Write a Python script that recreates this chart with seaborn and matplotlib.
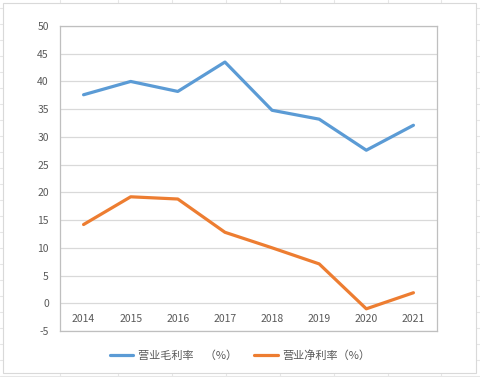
import matplotlib
matplotlib.use("Agg")
import matplotlib.pyplot as plt
import seaborn as sns
import pandas as pd
from matplotlib.patches import Rectangle
from matplotlib.lines import Line2D

# data
years = ["2014", "2015", "2016", "2017", "2018", "2019", "2020", "2021"]
gross_margin = [37.6, 40.0, 38.2, 43.5, 34.8, 33.2, 27.6, 32.1]
net_margin = [14.2, 19.2, 18.8, 12.8, 10.0, 7.1, -1.0, 1.9]
series_names = ["营业毛利率　（%）", "营业净利率（%）"]
yticks = list(range(-5, 55, 5))

sns.set_theme(style="white")
plt.rcParams["font.family"] = ["Noto Sans CJK SC", "DejaVu Sans"]

df = pd.DataFrame({
    "year": years * 2,
    "value": gross_margin + net_margin,
    "series": [series_names[0]] * len(years) + [series_names[1]] * len(years),
})
df["pos"] = df["year"].map({y: i for i, y in enumerate(years)})

colors = ["#5b9bd5", "#ed7d31"]
text_color = "#595959"

fig = plt.figure(figsize=(4.8, 3.77), dpi=100)
fig.patch.set_facecolor("white")

# faint spreadsheet grid behind the chart object
for y in range(8, 377, 16):
    fig.add_artist(Line2D([0, 1], [1 - y / 377] * 2, transform=fig.transFigure,
                          color="#e6e6e6", lw=0.8, zorder=0))
for x in [60, 118, 172, 226, 280, 334, 388, 441]:
    fig.add_artist(Line2D([x / 480] * 2, [0, 1], transform=fig.transFigure,
                          color="#e6e6e6", lw=0.8, zorder=0))
# chart area
fig.add_artist(Rectangle((3 / 480, 1 - 373 / 377), 473 / 480, 370 / 377,
                         transform=fig.transFigure, facecolor="white",
                         edgecolor="#d9d9d9", lw=0.8, zorder=0.5))

ax = fig.add_axes([60 / 480, 1 - 331 / 377, 377 / 480, 305 / 377])
ax.set_facecolor("white")
ax.set_zorder(1)

sns.lineplot(data=df, x="pos", y="value", hue="series", palette=colors,
             linewidth=2.3, ax=ax, legend=False, sort=False)

ax.set_xlim(-0.5, len(years) - 0.5)
ax.set_ylim(-5, 50)
ax.set_yticks(yticks)
ax.set_yticklabels([str(t) for t in yticks], color=text_color, fontsize=7.5)
ax.yaxis.grid(True, color="#d9d9d9", lw=0.9)
ax.set_axisbelow(True)
ax.tick_params(axis="y", length=0, pad=8)
ax.set_xticks([])
ax.set_xlabel("")
ax.set_ylabel("")
for s in ax.spines.values():
    s.set_color("#bfbfbf")
    s.set_linewidth(0.9)

# category labels sit just under the zero line, as in Excel
for i, yr in enumerate(years):
    ax.annotate(yr, (i, 0), xytext=(0, -8), textcoords="offset points",
                ha="center", va="top", fontsize=7.5, color=text_color)

handles = [Line2D([], [], color=c, lw=2.3) for c in colors]
fig.legend(handles, series_names, loc="center", ncol=2,
           bbox_to_anchor=(0.5, 1 - 356 / 377), frameon=False,
           fontsize=8, labelcolor=text_color, handlelength=2.1,
           columnspacing=1.6, handletextpad=0.4)

fig.savefig("out.png", dpi=100)
